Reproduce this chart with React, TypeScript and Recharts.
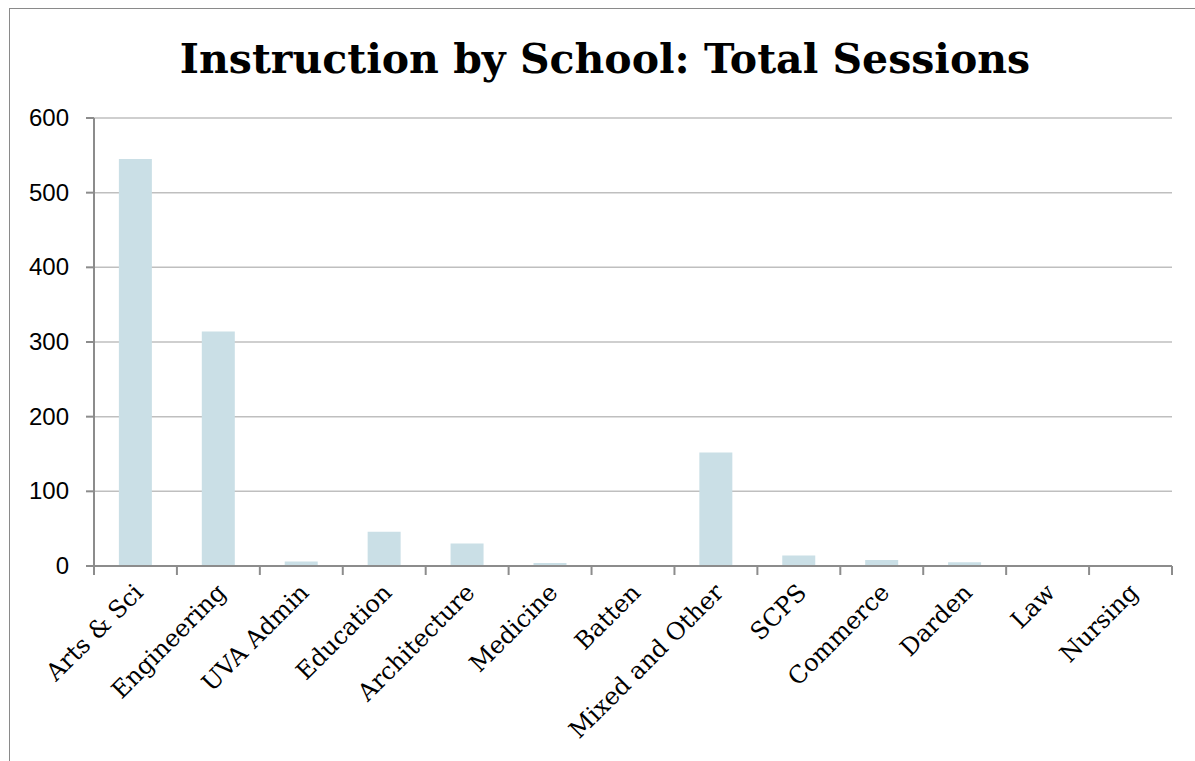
import { BarChart, Bar, XAxis, YAxis, CartesianGrid } from "recharts";

const schools = [
  "Arts & Sci",
  "Engineering",
  "UVA Admin",
  "Education",
  "Architecture",
  "Medicine",
  "Batten",
  "Mixed and Other",
  "SCPS",
  "Commerce",
  "Darden",
  "Law",
  "Nursing",
];
const sessions = [545, 314, 6, 46, 30, 4, 0, 152, 14, 8, 5, 1, 0];
const yTicks = [0, 100, 200, 300, 400, 500, 600];

const data = schools.map((name, i) => ({ name, sessions: sessions[i] }));

const W = 1195;
const H = 761;
const PLOT_LEFT = 94;
const PLOT_RIGHT = 1172;
const BAND = (PLOT_RIGHT - PLOT_LEFT) / schools.length;
const AXIS = "#8c8c8c";
const GRID = "#bfbfbf";

const YTick = (props: any) => {
  const { x, y, payload } = props;
  return (
    <text
      x={x}
      y={y}
      dy={8}
      textAnchor="end"
      fontFamily="'Liberation Sans', Arial, sans-serif"
      fontSize={24}
      fill="#000"
    >
      {payload.value}
    </text>
  );
};

// category label plus the Excel-style tick marks on the band edges
const XTick = (props: any) => {
  const { x, y, payload, index } = props;
  const left = x - BAND / 2;
  const isLast = index === schools.length - 1;
  return (
    <g>
      <line x1={left} x2={left} y1={y} y2={y + 9} stroke={AXIS} strokeWidth={2} />
      {isLast && (
        <line x1={left + BAND} x2={left + BAND} y1={y} y2={y + 9} stroke={AXIS} strokeWidth={2} />
      )}
      <g transform={`translate(${x + 9},${y + 28})`}>
        <text
          transform="rotate(-45)"
          textAnchor="end"
          fontFamily="'DejaVu Serif', serif"
          fontSize={24}
          fill="#000"
        >
          {payload.value}
        </text>
      </g>
    </g>
  );
};

export default function App() {
  return (
    <div
      style={{
        position: "absolute",
        left: 0,
        top: 0,
        width: W,
        height: H,
        overflow: "hidden",
        background: "#fff",
      }}
    >
      <div
        style={{
          position: "absolute",
          left: 9,
          top: 8,
          width: W,
          height: H,
          borderLeft: "1.5px solid #8a8a8a",
          borderTop: "1.5px solid #8a8a8a",
        }}
      />
      <svg style={{ position: "absolute", left: 0, top: 0 }} width={W} height={100}>
        <text
          x={605}
          y={73}
          textAnchor="middle"
          fontFamily="'DejaVu Serif', serif"
          fontWeight="bold"
          fontSize={41}
          fill="#000"
        >
          Instruction by School: Total Sessions
        </text>
      </svg>
      <div style={{ position: "absolute", left: 0, top: 0 }}>
        <BarChart
          width={W}
          height={H}
          data={data}
          margin={{ top: 118, right: W - PLOT_RIGHT, bottom: 0, left: 0 }}
          barCategoryGap="30%"
        >
          <CartesianGrid vertical={false} stroke={GRID} strokeWidth={1.5} />
          <XAxis
            dataKey="name"
            interval={0}
            tick={<XTick />}
            tickLine={false}
            tickSize={0}
            tickMargin={0}
            axisLine={{ stroke: AXIS, strokeWidth: 2 }}
            height={195}
          />
          <YAxis
            domain={[0, 600]}
            ticks={yTicks}
            width={PLOT_LEFT}
            tick={<YTick />}
            tickSize={8}
            tickMargin={17}
            tickLine={{ stroke: AXIS, strokeWidth: 2 }}
            axisLine={{ stroke: AXIS, strokeWidth: 2 }}
          />
          <YAxis
            yAxisId="right"
            orientation="right"
            domain={[0, 600]}
            width={0}
            tick={false}
            tickLine={false}
            axisLine={{ stroke: GRID, strokeWidth: 1.5 }}
          />
          <Bar dataKey="sessions" fill="#cadfe6" isAnimationActive={false} />
        </BarChart>
      </div>
    </div>
  );
}
